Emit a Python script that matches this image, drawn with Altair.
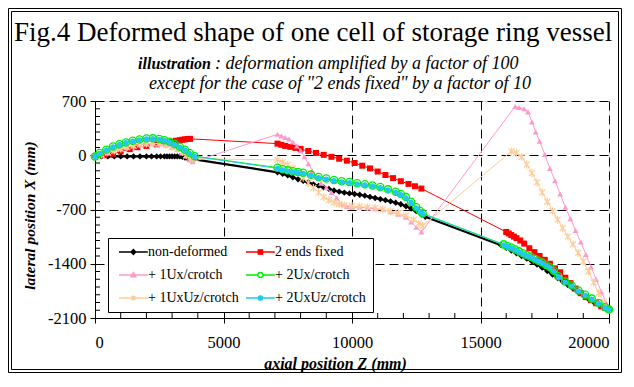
import altair as alt
import pandas as pd

SERIF = "Liberation Serif"

series_names = ["non-deformed", "2 ends fixed", "+ 1Ux/crotch", "+ 2Ux/crotch",
                "+ 1UxUz/crotch", "+ 2UxUz/crotch"]
series_colors = ["#000000", "#ff0000", "#ff99cc", "#00ee00", "#ffcc99", "#22c8f0"]

# ---- non-deformed (black diamonds)
nd_z = [0, 250, 500, 750, 1000, 1250, 1500, 1750, 2000, 2200, 2400, 2550, 2700, 2800, 2900, 3000,
        3100, 3200, 3300, 3400, 3500, 3600, 3700, 3800,
        7100, 7300, 7500, 7700, 7900, 8100, 8300, 8500, 8700, 8900, 9100, 9300, 9500, 9700, 9900,
        10100, 10300, 10500, 10700, 10900, 11100, 11300, 11500, 11700, 11900, 12100, 12300, 12500,
        12700, 12850,
        15800, 16000, 16200, 16400, 16600, 16800, 17000, 17200, 17400, 17600, 17800, 18000, 18200,
        18400, 18600, 18800, 19000, 19200, 19400, 19600, 19800, 20000]
nd_x = [-15, -15, -15, -15, -15, -15, -15, -15, -15, -15, -15, -15, -15, -15, -15, -15,
        -15, -15, -15, -20, -30, -40, -45, -50,
        -220, -240, -260, -285, -310, -330, -350, -375, -395, -415, -435, -455, -470, -482, -492,
        -500, -510, -522, -538, -552, -565, -580, -595, -612, -632, -658, -688, -722,
        -765, -795,
        -1160, -1195, -1230, -1265, -1300, -1335, -1370, -1410, -1450, -1495, -1540, -1585, -1630,
        -1675, -1720, -1765, -1810, -1855, -1895, -1930, -1965, -1995]

# ---- 2 ends fixed (red squares)
fx_z = [0, 350, 700, 1000, 1350, 1650, 2000, 2400, 2750, 3000, 3150, 3300, 3400, 3500, 3600, 3700,
        7100, 7250, 7400, 7600, 7800, 8000, 8300, 8600, 8900, 9200, 9500, 9800, 10100, 10400,
        10700, 11000, 11300, 11600, 11900, 12200, 12450, 12700,
        16000, 16100, 16200, 16300, 16400, 16550, 16700, 16900, 17100, 17300, 17500, 17700, 17900,
        18100, 18300, 18500, 18700, 18900, 19100, 19300, 19500, 19700, 19850, 20000]
fx_x = [-15, 0, 20, 50, 79, 104, 120, 141, 162, 175, 187, 195, 200, 205, 210, 212,
        150, 135, 120, 108, 95, 82, 55, 30, 5, -20, -45, -70, -100, -135,
        -170, -210, -255, -295, -335, -370, -400, -430,
        -990, -1010, -1030, -1050, -1070, -1100, -1140, -1200, -1250, -1300, -1350, -1400, -1460,
        -1510, -1580, -1650, -1720, -1780, -1830, -1870, -1910, -1950, -1970, -1990]

# ---- + 1Ux/crotch (pink triangles)
u1_z = [0, 250, 500, 750, 1000, 1250, 1500, 1750, 2000, 2250, 2500, 2750, 3000, 3200, 3400, 3550,
        3700, 3800,
        7100, 7250, 7400, 7550, 7700, 7850, 8000, 8150, 8300, 8450, 8600, 8800, 9000, 9200, 9400,
        9600, 9800, 10000, 10300, 10600, 10900, 11200, 11500, 11800, 12100, 12300, 12500, 12700,
        16350, 16500, 16700, 16850, 17000, 17150, 17300, 17500, 17700, 17900, 18100, 18300, 18500,
        18700, 18900, 19100, 19300, 19500, 19700, 19900, 20000]
u1_x = [-15, 5, 30, 55, 80, 100, 120, 135, 145, 150, 145, 130, 105, 75, 30, -10,
        -60, -85,
        270, 250, 230, 210, 170, 120, 60, -20, -110, -200, -280, -360, -420, -480, -550,
        -630, -660, -670, -670, -680, -690, -700, -730, -760, -800, -860, -930, -990,
        630, 615, 600, 560, 430, 300, 180, 10, -170, -330, -500, -670, -820,
        -970, -1120, -1280, -1440, -1600, -1760, -1910, -1990]

# ---- + 2Ux/crotch (green open circles)
u2_z = [0, 180, 440, 700, 950, 1200, 1470, 1730, 2000, 2250, 2500, 2700, 2900, 3100, 3300, 3500,
        3680, 3880,
        7100, 7300, 7500, 7700, 7900, 8100, 8400, 8700, 9000, 9300, 9600, 9900, 10200, 10500,
        10800, 11100, 11400, 11700, 11900, 12100, 12300, 12500, 12650, 12750,
        15900, 16050, 16200, 16350, 16500, 16650, 16800, 16950, 17100, 17250, 17400, 17550, 17700,
        17850, 18030, 18290, 18550, 18810, 19070, 19330, 19590, 19850, 20000]
u2_x = [-15, 29, 71, 112, 141, 166, 187, 204, 216, 218, 210, 195, 175, 145, 110, 70,
        29, -12,
        -160, -180, -195, -205, -215, -225, -250, -280, -300, -320, -335, -345, -360, -375,
        -390, -410, -440, -470, -500, -540, -600, -670, -720, -750,
        -1150, -1170, -1190, -1215, -1240, -1265, -1290, -1310, -1335, -1360, -1385, -1415, -1445,
        -1490, -1560, -1630, -1680, -1745, -1800, -1850, -1905, -1960, -1990]

# ---- + 1UxUz/crotch (peach stars)
uz1_z = [0, 250, 500, 750, 1000, 1250, 1500, 1750, 2000, 2250, 2500, 2750, 3000, 3200, 3400, 3550,
         3700, 3800,
         7100, 7300, 7500, 7700, 7900, 8100, 8300, 8500, 8700, 8900, 9100, 9300, 9500, 9700, 10000,
         10300, 10600, 10900, 11200, 11500, 11800, 12100, 12400, 12600, 12750,
         16200, 16400, 16600, 16800, 17000, 17200, 17400, 17600, 17800, 18000, 18200, 18400, 18600,
         18800, 19000, 19200, 19400, 19600, 19800, 20000]
uz1_x = [-15, 10, 35, 60, 85, 105, 125, 140, 150, 155, 150, 135, 110, 80, 40, 0,
         -30, -45,
         -60, -90, -120, -170, -230, -290, -360, -420, -480, -540, -580, -610, -630, -645, -655,
         -660, -670, -680, -700, -720, -745, -780, -830, -880, -910,
         50, 30, -20, -120, -230, -350, -480, -600, -720, -830, -940, -1050, -1150,
         -1260, -1370, -1500, -1640, -1780, -1900, -2000]

# ---- + 2UxUz/crotch (cyan dots)
uz2_z = list(u2_z)
uz2_x = [-15, 24, 66, 106, 135, 160, 181, 198, 210, 212, 204, 189, 169, 139, 104, 64,
         24, -15,
         -170, -190, -205, -215, -225, -235, -260, -290, -310, -330, -345, -355, -370, -385,
         -400, -420, -450, -480, -510, -550, -610, -680, -730, -758,
         -1157, -1177, -1197, -1222, -1247, -1272, -1297, -1317, -1342, -1367, -1392, -1422, -1452,
         -1497, -1567, -1637, -1687, -1752, -1807, -1857, -1912, -1967, -1995]

x_ticks = [0, 5000, 10000, 15000, 20000]
y_ticks = [-2100, -1400, -700, 0, 700]
x_minor = [v for v in range(1000, 20000, 1000) if v % 5000 != 0]
y_minor = [v for v in range(-2000, 700, 100) if v % 700 != 0]

W, H = 514, 217

x_scale = alt.Scale(domain=[0, 20000], nice=False, zero=False)
y_scale = alt.Scale(domain=[-2100, 700], nice=False, zero=False)

x_axis = alt.Axis(values=x_ticks, labelExpr="'' + datum.value", title="axial position  Z (mm)",
                  labelFont=SERIF, labelFontSize=16.5, labelColor="black", labelPadding=11,
                  tickColor="black", tickSize=5, domainColor="black",
                  grid=True, gridColor="black", gridDash=[9, 5], gridWidth=1,
                  titleFont=SERIF, titleFontSize=16, titleFontStyle="italic", titleFontWeight="bold",
                  titleColor="black", titleX=240, titleY=45, titleBaseline="middle", titleAnchor="middle",
                  titleAlign="center")
y_axis = alt.Axis(values=y_ticks, labelExpr="'' + datum.value", title="lateral position X (mm)",
                  labelFont=SERIF, labelFontSize=16.5, labelColor="black", labelPadding=4,
                  tickColor="black", tickSize=5, domainColor="black",
                  grid=True, gridColor="black", gridDash=[9, 5], gridWidth=1,
                  titleFont=SERIF, titleFontSize=15.5, titleFontStyle="italic", titleFontWeight="bold",
                  titleColor="black", titleX=-66, titleY=114, titleAngle=270, titleBaseline="middle",
                  titleAlign="center")

X = alt.X("Z:Q", scale=x_scale, axis=x_axis)
Y = alt.Y("X:Q", scale=y_scale, axis=y_axis)

layers = []

# outer double frame
frame_df = pd.DataFrame({"a": [0]})
for off in (0.5, 3.5):
    layers.append(
        alt.Chart(frame_df).mark_rect(fillOpacity=0, stroke="black", strokeWidth=1).encode(
            x=alt.value(-87 + off), x2=alt.value(W + 13 - off),
            y=alt.value(-93 + off), y2=alt.value(H + 55 - off))
    )

# minor ticks (inside the frame)
layers.append(alt.Chart(pd.DataFrame({"Z": x_minor})).mark_rule(color="black", strokeWidth=1).encode(
    x=X, y=alt.value(H), y2=alt.value(H - 5)))
layers.append(alt.Chart(pd.DataFrame({"X": y_minor})).mark_rule(color="black", strokeWidth=1).encode(
    y=Y, x=alt.value(0), x2=alt.value(5)))

star = "M-1,-1L1,1M-1,1L1,-1M0,-1.3V1.3"
styles = [
    (nd_z, nd_x, 2.2, dict(shape="diamond", size=40, filled=True, color="#000000")),
    (fx_z, fx_x, 1, dict(shape="square", size=36, filled=True, color="#ff0000")),
    (u1_z, u1_x, 1, dict(shape="triangle-up", size=34, filled=True, color="#ff99cc")),
    (uz1_z, uz1_x, 1, dict(shape=star, size=36, filled=False, color="#ffcc99", strokeWidth=1.2)),
    (u2_z, u2_x, 1, dict(shape="circle", size=52, filled=False, color="#00ee00", strokeWidth=1.3)),
    (uz2_z, uz2_x, 1, dict(shape="circle", size=30, filled=True, color="#22c8f0")),
]
for zs, xs, lw, pt in styles:
    df = pd.DataFrame({"Z": zs, "X": xs})
    base = alt.Chart(df)
    layers.append(base.mark_line(color=pt["color"], strokeWidth=lw).encode(x=X, y=Y))
    layers.append(base.mark_point(opacity=1, **pt).encode(x=X, y=Y))

# legend (symbol = line + marker)
legend_paths = [
    "M-1.5,0H12.9M4.5,0L5.7,-1.3L6.9,0L5.7,1.3Z",
    "M-1.5,0H12.9M4.6,-1.1H6.8V1.1H4.6Z",
    "M-1.5,0H12.9M4.45,0.95L5.7,-1.25L6.95,0.95Z",
    "M-1.5,0H4.45M6.95,0H12.9M4.45,0A1.25,1.25 0 1 1 6.95,0A1.25,1.25 0 1 1 4.45,0Z",
    "M-1.5,0H12.9M4.7,-1L6.7,1M4.7,1L6.7,-1M5.7,-1.2V1.2",
    "M-1.5,0H12.9M4.6,0A1.1,1.1 0 1 1 6.8,0A1.1,1.1 0 1 1 4.6,0Z",
]
legend_fills = ["#000000", "#ff0000", "#ff99cc", "#ffffff", "#ffcc99", "#22c8f0"]
leg = alt.Legend(title=None, orient="none", legendX=13, legendY=137, columns=2,
                 direction="horizontal", labelFont=SERIF, labelFontSize=14, labelColor="black",
                 labelOffset=19, symbolSize=16, symbolStrokeWidth=1.3, symbolOpacity=1,
                 symbolOffset=0, columnPadding=3, rowPadding=9, padding=7,
                 strokeColor="black", fillColor="white", labelLimit=300)
leg_df = pd.DataFrame({"series": series_names, "Z": [0] * 6, "X": [-15] * 6})
layers.append(alt.Chart(leg_df).mark_point(opacity=0, size=16).encode(
    x=X, y=Y,
    shape=alt.Shape("series:N", scale=alt.Scale(domain=series_names, range=legend_paths), legend=leg),
    fill=alt.Fill("series:N", scale=alt.Scale(domain=series_names, range=legend_fills), legend=leg),
    stroke=alt.Stroke("series:N", scale=alt.Scale(domain=series_names, range=series_colors), legend=leg),
))


def text_layer(txt, x, y, size, style="normal", weight="normal", align="left"):
    return alt.Chart(pd.DataFrame({"t": [txt]})).mark_text(
        font=SERIF, fontSize=size, fontStyle=style, fontWeight=weight, align=align,
        baseline="alphabetic", color="black").encode(x=alt.value(x), y=alt.value(y), text="t:N")


layers.append(text_layer("Fig.4 Deformed shape of one cell of storage ring vessel", -81, -60, 27))
layers.append(text_layer("illustration", 116, -32, 16, style="italic", weight="bold", align="right"))
layers.append(text_layer(": deformation amplified by a factor of 100", 120, -32, 18, style="italic"))
layers.append(text_layer('except for the case of "2 ends fixed" by a factor of 10', 245, -12.5, 18,
                         style="italic", align="center"))

chart = alt.layer(*layers).properties(
    width=W, height=H,
    padding={"left": 87, "top": 93, "right": 13, "bottom": 55},
    autosize=alt.AutoSizeParams(type="none"),
).configure_view(stroke="black", strokeWidth=1).configure(background="white")

chart.save("out.html", embed_options={"renderer": "svg", "actions": False})
